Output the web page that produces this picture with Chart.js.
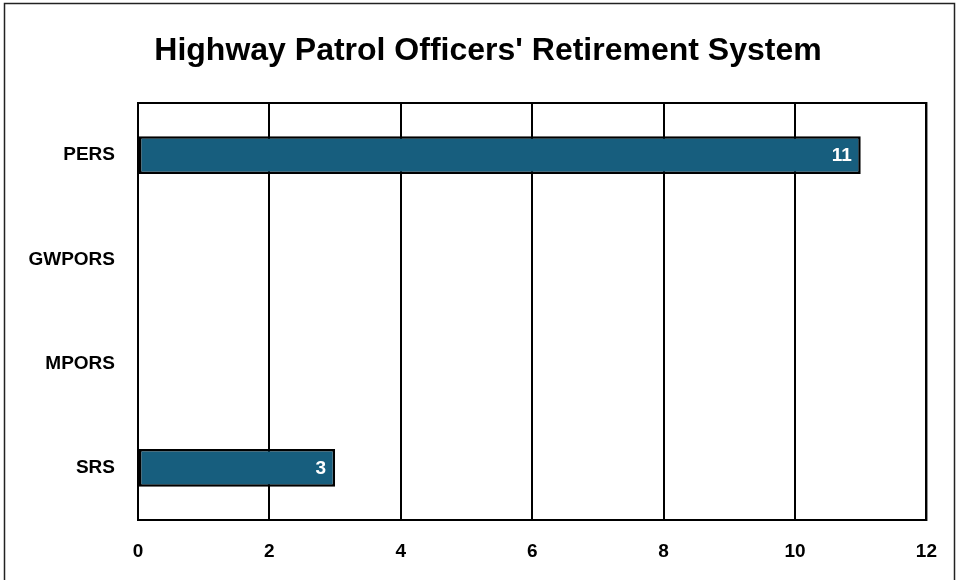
<!DOCTYPE html>
<html>
<head>
<meta charset="utf-8">
<script src="https://cdn.jsdelivr.net/npm/chart.js@4/dist/chart.umd.min.js"></script>
<style>
  html, body { margin: 0; padding: 0; background: #fff; }
  #wrap { width: 957px; height: 580px; position: relative; }
</style>
</head>
<body>
<div id="wrap"><canvas id="c" width="957" height="580"></canvas></div>
<script>
const titleText = "Highway Patrol Officers' Retirement System";
const categories = ["PERS", "GWPORS", "MPORS", "SRS"];
const values = [11, null, null, 3];
const xTicks = [0, 2, 4, 6, 8, 10, 12];

const frameAndTitle = {
  id: 'frameAndTitle',
  afterDraw(chart) {
    const ctx = chart.ctx;
    const a = chart.chartArea;
    ctx.save();
    // plot area border
    ctx.strokeStyle = '#000';
    ctx.lineWidth = 2;
    ctx.strokeRect(a.left, a.top, a.right - a.left, a.bottom - a.top);
    // outer frame
    ctx.lineWidth = 1.5;
    ctx.strokeStyle = '#222';
    ctx.strokeRect(4.5, 3.5, 950, 620);
    // title
    ctx.fillStyle = '#000';
    ctx.font = 'bold 32px "Liberation Sans", Arial, sans-serif';
    ctx.textAlign = 'center';
    ctx.textBaseline = 'alphabetic';
    ctx.fillText(titleText, 488, 60);
    // data labels
    const meta = chart.getDatasetMeta(0);
    ctx.font = 'bold 19px "Liberation Sans", Arial, sans-serif';
    ctx.fillStyle = '#fff';
    ctx.textAlign = 'right';
    ctx.textBaseline = 'middle';
    meta.data.forEach((bar, i) => {
      const v = values[i];
      if (v === null || v === undefined) return;
      ctx.fillText(String(v), bar.x - 9, bar.y + 1);
    });
    ctx.restore();
  }
};

new Chart(document.getElementById('c'), {
  type: 'bar',
  data: {
    labels: categories,
    datasets: [{
      data: values,
      backgroundColor: '#175E7E',
      borderColor: '#000',
      borderWidth: 2.5,
      borderSkipped: false,
      barPercentage: 0.72,
      categoryPercentage: 0.5
    }]
  },
  options: {
    indexAxis: 'y',
    responsive: false,
    animation: false,
    devicePixelRatio: 1,
    layout: { padding: { top: 103, right: 30, left: 0, bottom: 0 } },
    plugins: {
      legend: { display: false },
      title: { display: false },
      tooltip: { enabled: false }
    },
    scales: {
      x: {
        min: 0, max: 12,
        afterBuildTicks(scale) { scale.ticks = xTicks.map(v => ({ value: v })); },
        afterFit(scale) { scale.height = 60; },
        grid: { color: '#000', lineWidth: 2, drawTicks: false },
        border: { color: '#000', width: 2 },
        ticks: {
          padding: 20,
          color: '#000',
          font: { family: '"Liberation Sans", Arial, sans-serif', size: 19, weight: 'bold' }
        }
      },
      y: {
        afterFit(scale) { scale.width = 138; },
        grid: { display: false, drawTicks: false },
        border: { color: '#000', width: 2 },
        ticks: {
          padding: 23,
          color: '#000',
          font: { family: '"Liberation Sans", Arial, sans-serif', size: 19, weight: 'bold' }
        }
      }
    }
  },
  plugins: [frameAndTitle]
});
</script>
</body>
</html>
